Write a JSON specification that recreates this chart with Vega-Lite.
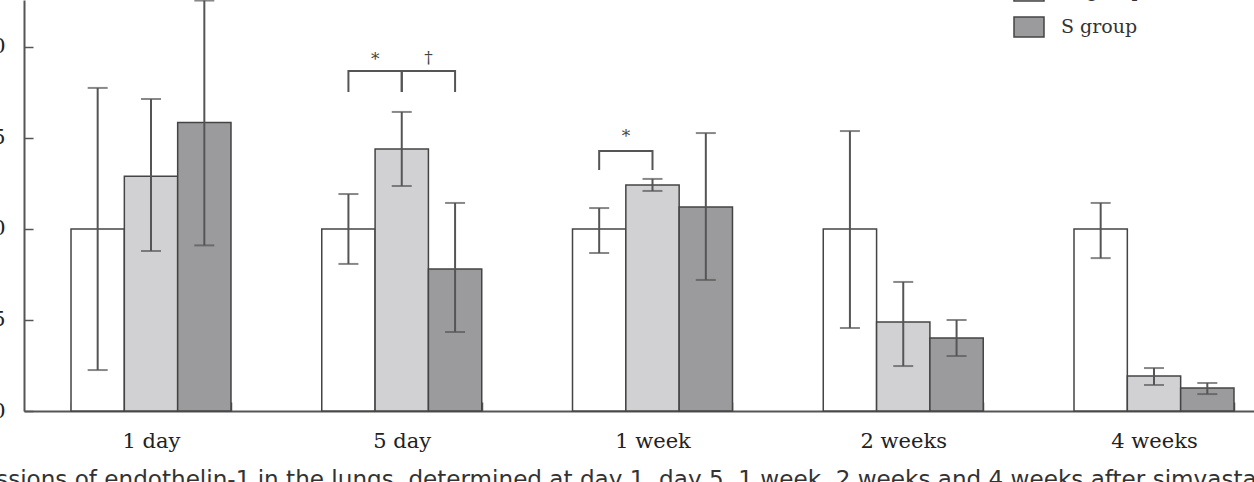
{
  "$schema": "https://vega.github.io/schema/vega-lite/v6.json",
  "width": 1230,
  "height": 411,
  "autosize": {"type": "none"},
  "padding": {"left": 24, "top": 0, "right": 0, "bottom": 71},
  "background": "white",
  "config": {
    "view": {"stroke": null},
    "font": "DejaVu Serif",
    "axisX": {"domainColor": "#555", "domainWidth": 2, "tickColor": "#555", "tickWidth": 1.5, "tickSize": -9, "tickBand": "extent", "labelFont": "DejaVu Serif", "labelFontSize": 21, "labelColor": "#222", "labelPadding": 28, "labelAngle": 0, "grid": false},
    "axisY": {"domainColor": "#555", "domainWidth": 2, "tickColor": "#555", "tickWidth": 1.5, "tickSize": -9, "labelFont": "DejaVu Serif", "labelFontSize": 21, "labelColor": "#222", "labelPadding": 28, "grid": false}
  },
  "datasets": {
    "bars": [
      {"time": "1 day", "group": "C group", "mean": 1.0, "lo": 0.225, "hi": 1.775},
      {"time": "1 day", "group": "M group", "mean": 1.29, "lo": 0.879, "hi": 1.714},
      {"time": "1 day", "group": "S group", "mean": 1.585, "lo": 0.91, "hi": 2.255},
      {"time": "5 day", "group": "C group", "mean": 1.0, "lo": 0.808, "hi": 1.192},
      {"time": "5 day", "group": "M group", "mean": 1.44, "lo": 1.236, "hi": 1.643},
      {"time": "5 day", "group": "S group", "mean": 0.78, "lo": 0.434, "hi": 1.143},
      {"time": "1 week", "group": "C group", "mean": 1.0, "lo": 0.868, "hi": 1.115},
      {"time": "1 week", "group": "M group", "mean": 1.242, "lo": 1.209, "hi": 1.275},
      {"time": "1 week", "group": "S group", "mean": 1.121, "lo": 0.72, "hi": 1.527},
      {"time": "2 weeks", "group": "C group", "mean": 1.0, "lo": 0.456, "hi": 1.538},
      {"time": "2 weeks", "group": "M group", "mean": 0.489, "lo": 0.247, "hi": 0.709},
      {"time": "2 weeks", "group": "S group", "mean": 0.401, "lo": 0.302, "hi": 0.5},
      {"time": "4 weeks", "group": "C group", "mean": 1.0, "lo": 0.84, "hi": 1.143},
      {"time": "4 weeks", "group": "M group", "mean": 0.192, "lo": 0.143, "hi": 0.236},
      {"time": "4 weeks", "group": "S group", "mean": 0.126, "lo": 0.093, "hi": 0.154}
    ],
    "brackets": [
      {"time": "5 day", "bracket": "a", "seq": 1, "group": "C group", "y": 1.753},
      {"time": "5 day", "bracket": "a", "seq": 2, "group": "C group", "y": 1.868},
      {"time": "5 day", "bracket": "a", "seq": 3, "group": "M group", "y": 1.868},
      {"time": "5 day", "bracket": "a", "seq": 4, "group": "M group", "y": 1.753},
      {"time": "5 day", "bracket": "b", "seq": 1, "group": "M group", "y": 1.753},
      {"time": "5 day", "bracket": "b", "seq": 2, "group": "M group", "y": 1.868},
      {"time": "5 day", "bracket": "b", "seq": 3, "group": "S group", "y": 1.868},
      {"time": "5 day", "bracket": "b", "seq": 4, "group": "S group", "y": 1.753},
      {"time": "1 week", "bracket": "c", "seq": 1, "group": "C group", "y": 1.324},
      {"time": "1 week", "bracket": "c", "seq": 2, "group": "C group", "y": 1.429},
      {"time": "1 week", "bracket": "c", "seq": 3, "group": "M group", "y": 1.429},
      {"time": "1 week", "bracket": "c", "seq": 4, "group": "M group", "y": 1.324}
    ],
    "signs": [
      {"time": "5 day", "group": "C group", "label": "*", "y": 1.93},
      {"time": "5 day", "group": "M group", "label": "†", "y": 1.94},
      {"time": "1 week", "group": "C group", "label": "*", "y": 1.505}
    ]
  },
  "title": {
    "text": "Expressions of endothelin-1 in the lungs, determined at day 1, day 5, 1 week, 2 weeks and 4 weeks after simvastatin treatment.",
    "orient": "bottom",
    "anchor": "start",
    "frame": "group",
    "font": "DejaVu Sans",
    "fontSize": 23.1,
    "fontWeight": "normal",
    "color": "#333",
    "baseline": "alphabetic",
    "offset": 36,
    "dx": -94
  },
  "encoding": {
    "x": {
      "field": "time",
      "type": "nominal",
      "sort": ["1 day", "5 day", "1 week", "2 weeks", "4 weeks"],
      "scale": {"range": [0, 1257], "paddingInner": 0.362, "paddingOuter": 0.1875},
      "title": null
    },
    "xOffset": {
      "field": "group",
      "type": "nominal",
      "scale": {"domain": ["C group", "M group", "S group"], "paddingInner": 0, "paddingOuter": 0}
    }
  },
  "layer": [
    {
      "data": {"name": "bars"},
      "mark": {"type": "bar", "stroke": "#444", "strokeWidth": 1.5},
      "encoding": {
        "y": {"field": "mean", "type": "quantitative", "scale": {"domain": [0, 2.258], "nice": false}, "axis": {"values": [0, 0.5, 1, 1.5, 2], "title": null}},
        "fill": {
          "field": "group",
          "type": "nominal",
          "scale": {"domain": ["C group", "M group", "S group"], "range": ["#ffffff", "#d1d1d3", "#9b9b9d"]},
          "legend": {"orient": "none", "legendX": 989, "legendY": -61, "title": null, "symbolType": "M-1,-0.667H1V0.667H-1Z", "symbolSize": 900, "symbolStrokeColor": "#444", "symbolStrokeWidth": 1.5, "labelFont": "DejaVu Serif", "labelFontSize": 19, "labelColor": "#333", "labelOffset": 16, "rowPadding": 6}
        }
      }
    },
    {
      "data": {"name": "bars"},
      "mark": {"type": "rule", "color": "#555", "strokeWidth": 2},
      "encoding": {
        "y": {"field": "lo", "type": "quantitative", "axis": {"title": null}},
        "y2": {"field": "hi"}
      }
    },
    {
      "data": {"name": "bars"},
      "mark": {"type": "tick", "color": "#555", "thickness": 2, "size": 20},
      "encoding": {"y": {"field": "hi", "type": "quantitative", "axis": {"title": null}}}
    },
    {
      "data": {"name": "bars"},
      "mark": {"type": "tick", "color": "#555", "thickness": 2, "size": 20},
      "encoding": {"y": {"field": "lo", "type": "quantitative", "axis": {"title": null}}}
    },
    {
      "data": {"name": "brackets"},
      "mark": {"type": "line", "color": "#555", "strokeWidth": 2},
      "encoding": {
        "y": {"field": "y", "type": "quantitative", "axis": {"title": null}},
        "detail": {"field": "bracket", "type": "nominal"},
        "order": {"field": "seq", "type": "quantitative"}
      }
    },
    {
      "data": {"name": "signs"},
      "mark": {"type": "text", "dx": 26.75, "font": "DejaVu Serif", "fontSize": 17, "color": "#444", "baseline": "middle"},
      "encoding": {
        "y": {"field": "y", "type": "quantitative", "axis": {"title": null}},
        "text": {"field": "label", "type": "nominal"}
      }
    }
  ]
}
